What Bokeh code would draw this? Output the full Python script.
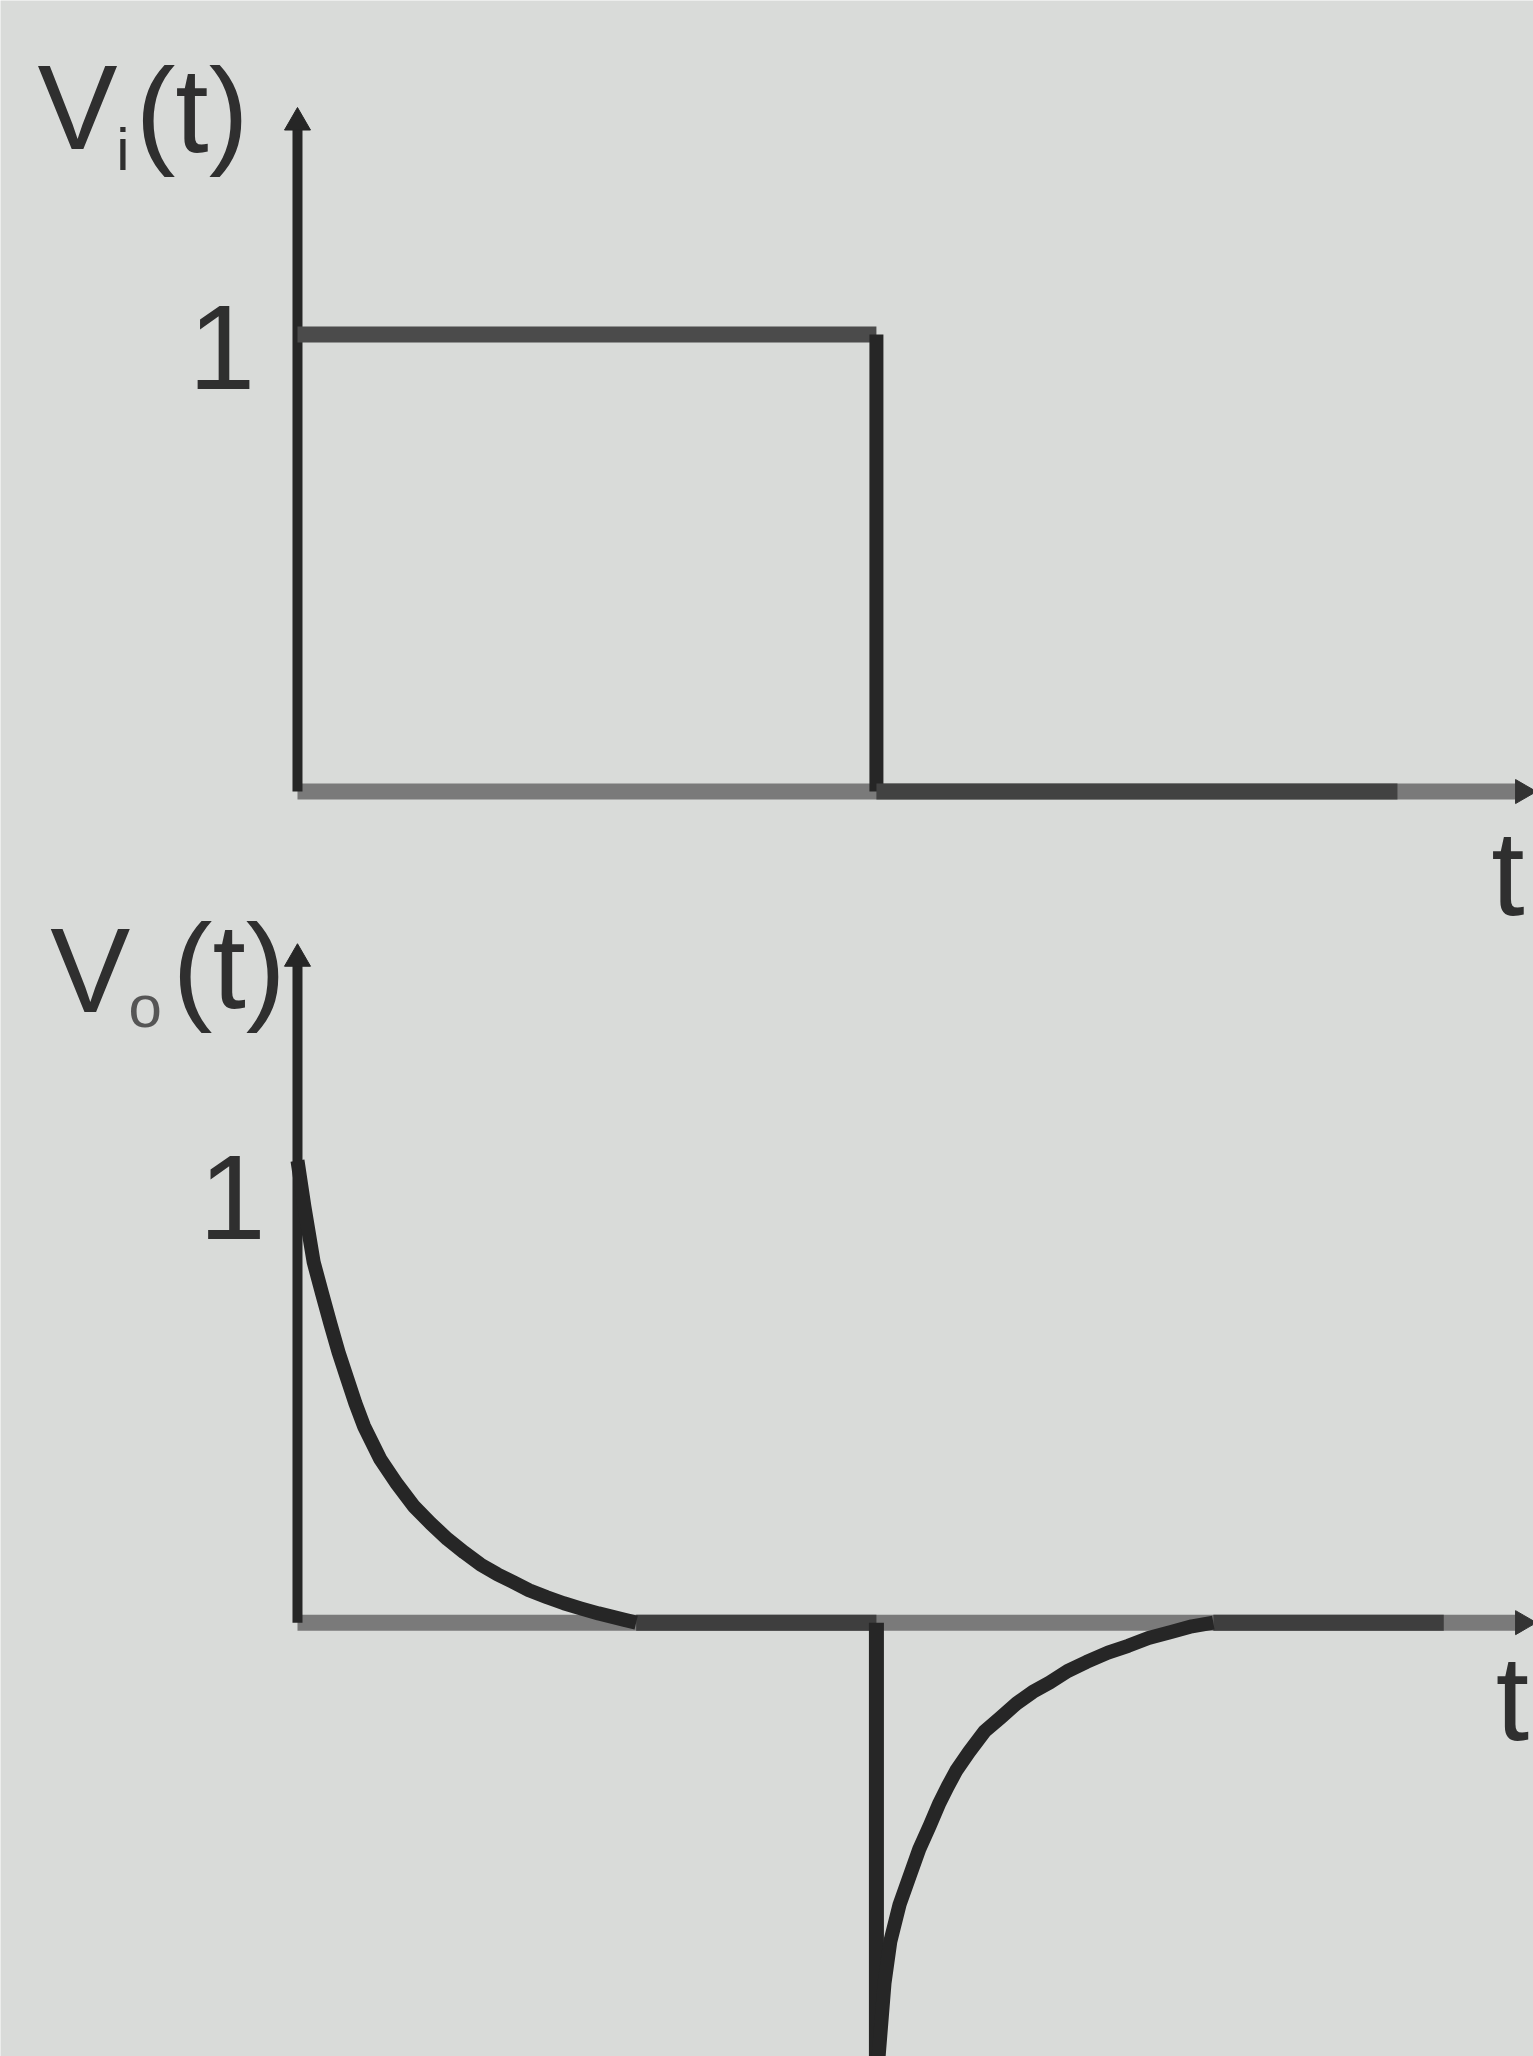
from bokeh.plotting import figure
from bokeh.models import Range1d
from bokeh.core.properties import value
from bokeh.embed import file_html
from bokeh.resources import INLINE

# ---- data (time in units of the pulse width T) ----
# input pulse v_i(t): corner points of the rectangular pulse, then the zero tail
vin_t = [0.0, 1.0, 1.0, 1.90]
vin_v = [1.0, 1.0, 0.0, 0.0]

# output v_o(t): decay after the rising edge
decay_t = [0.0, 0.012, 0.028, 0.043, 0.057, 0.071, 0.086, 0.100, 0.115, 0.143,
           0.172, 0.201, 0.230, 0.259, 0.288, 0.316, 0.345, 0.374, 0.400, 0.431,
           0.460, 0.489, 0.520, 0.546, 0.565, 0.585]
decay_v = [1.0, 0.90, 0.78, 0.71, 0.646, 0.585, 0.528, 0.475, 0.425, 0.354,
           0.30, 0.252, 0.215, 0.181, 0.152, 0.126, 0.105, 0.087, 0.07, 0.055,
           0.042, 0.031, 0.02, 0.012, 0.006, 0.0]

# negative spike at the falling edge
spike_t = [1.0, 1.0]
spike_v = [0.0, -1.0]

# recovery back to zero after the spike
recov_t = [1.0, 1.005, 1.014, 1.024, 1.040, 1.057, 1.074, 1.092, 1.109, 1.123,
           1.138, 1.160, 1.187, 1.215, 1.242, 1.270, 1.299, 1.330, 1.363, 1.400,
           1.435, 1.470, 1.509, 1.545, 1.582]
recov_v = [-1.0, -0.92, -0.78, -0.69, -0.61, -0.55, -0.49, -0.44, -0.39, -0.355,
           -0.32, -0.28, -0.235, -0.205, -0.175, -0.15, -0.13, -0.105, -0.085, -0.065,
           -0.05, -0.033, -0.02, -0.008, 0.0]

# zero-level stretches of v_o(t)
vout_zero_start = [0.585, 1.582]
vout_zero_end = [1.0, 1.98]

# axis labels
top_ylabel = ["V", "i", "(t)"]
bot_ylabel = ["V", "o", "(t)"]
level_label = "1"
time_label = "t"

# ---- figure ----
BG = "#d9dbd9"
DARK = "#262626"
AXIS_GREY = "#7a7a7a"
FONT = value("Liberation Sans Narrow, Liberation Sans")

p = figure(width=1533, height=2056, output_backend="svg", toolbar_location=None,
           x_range=Range1d(-0.513, 2.135), y_range=Range1d(-0.939, 3.511),
           x_axis_location=None, y_axis_location=None,
           min_border=0, background_fill_color=BG, border_fill_color=BG,
           outline_line_color=None)
p.extra_y_ranges = {"top": Range1d(-2.768, 1.731)}
p.grid.visible = False

T_END = 2.116  # right end of the time axes


def label(x, y, txt, size, color="#2f2f2f", align="left", rng="default"):
    p.text(x=[x], y=[y], text=[txt], y_range_name=rng, text_font=FONT,
           text_font_size=size, text_color=color,
           text_baseline="alphabetic", text_align=align)


# ===== upper panel: v_i(t) =====
# time axis (grey) and vertical axis
p.line([0, T_END], [0, 0], y_range_name="top", line_color=AXIS_GREY, line_width=16)
p.line([0, 0], [0, 1.46], y_range_name="top", line_color=DARK, line_width=10)
p.scatter([0], [1.464], y_range_name="top", marker="triangle", size=26,
          fill_color=DARK, line_color=DARK)
p.scatter([T_END], [0], y_range_name="top", marker="triangle", size=24, angle=-1.5708,
          fill_color="#333333", line_color="#333333")

# pulse: flat top, falling edge, zero tail
p.line(vin_t[0:2], vin_v[0:2], y_range_name="top", line_color="#4b4b4b", line_width=16)
p.line(vin_t[1:3], vin_v[1:3], y_range_name="top", line_color=DARK, line_width=14)
p.line(vin_t[2:4], vin_v[2:4], y_range_name="top", line_color="#424242", line_width=16)

label(-0.449, 1.497, top_ylabel[0], "120px", rng="top")
label(-0.313, 1.405, top_ylabel[1], "60px", rng="top")
label(-0.280, 1.491, top_ylabel[2], "120px", rng="top")
label(-0.073, 0.972, level_label, "120px", align="right", rng="top")
label(2.062, -0.179, time_label, "120px", rng="top")

# ===== lower panel: v_o(t) =====
p.line([0, T_END], [0, 0], line_color=AXIS_GREY, line_width=16)
p.line([0, 0], [0, 1.435], line_color=DARK, line_width=10)
p.scatter([0], [1.437], marker="triangle", size=26, fill_color=DARK, line_color=DARK)
p.scatter([T_END], [0], marker="triangle", size=24, angle=-1.5708,
          fill_color="#333333", line_color="#333333")

p.segment(x0=vout_zero_start, y0=[0, 0], x1=vout_zero_end, y1=[0, 0],
          line_color="#3e3e3e", line_width=16)
p.line(decay_t, decay_v, line_color=DARK, line_width=14, line_join="round")
p.line(spike_t, spike_v, line_color=DARK, line_width=15)
p.line(recov_t, recov_v, line_color=DARK, line_width=14, line_join="round")

label(-0.427, 1.412, bot_ylabel[0], "120px")
label(-0.292, 1.334, bot_ylabel[1], "60px", color="#555555")
label(-0.216, 1.422, bot_ylabel[2], "120px")
label(-0.055, 0.920, level_label, "120px", align="right")
label(2.070, -0.162, time_label, "120px")

open("out.html", "w").write(file_html(p, INLINE))
